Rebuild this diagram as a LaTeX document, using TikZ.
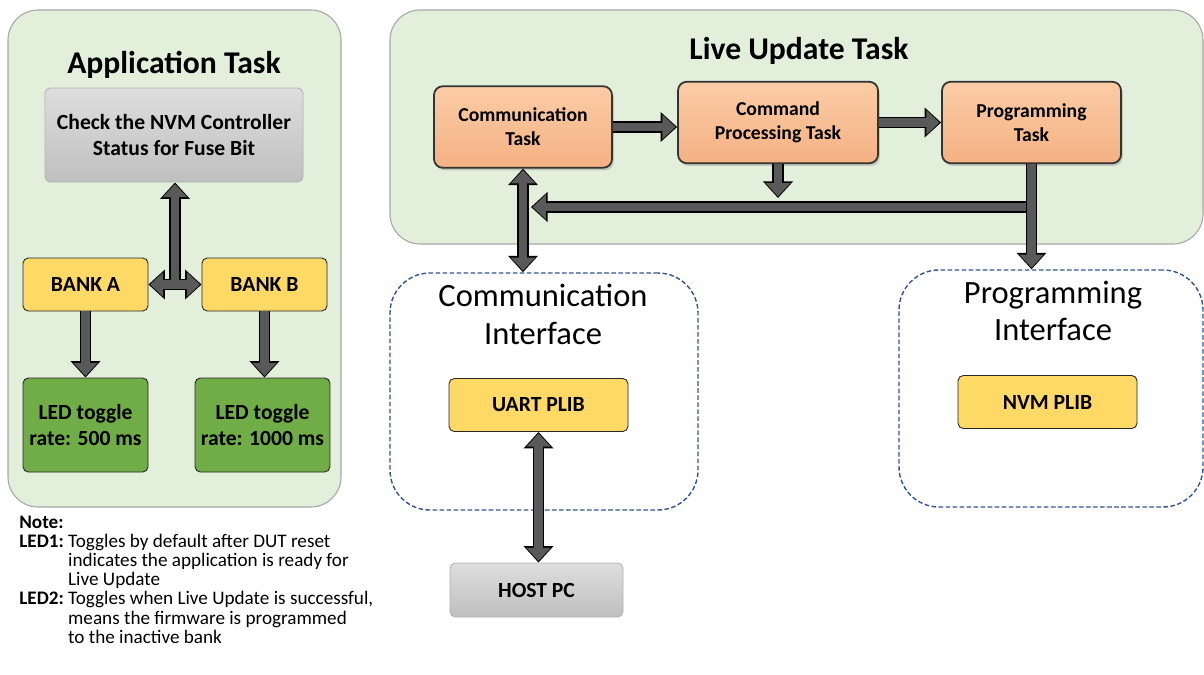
\documentclass[tikz,border=0pt]{standalone}
\usepackage{fontspec}
\setmainfont{Carlito}
\usetikzlibrary{arrows.meta, shadows}

\definecolor{panelgreen}{HTML}{E2EFDA}
\definecolor{panelline}{HTML}{A6A6A6}
\definecolor{bankyellow}{HTML}{FFD966}
\definecolor{ledgreen}{HTML}{70AD47}
\definecolor{tasktop}{HTML}{FBCCA6}
\definecolor{taskbot}{HTML}{F4B183}
\definecolor{arrowgray}{HTML}{595959}
\definecolor{ifblue}{HTML}{2F5597}

\begin{document}
\begin{tikzpicture}[
        panel/.style={draw=panelline, fill=panelgreen, rounded corners=0.6cm, line width=0.6pt},
        ifbox/.style={draw=ifblue, dash pattern=on 2.6pt off 1.4pt, rounded corners=0.8cm, line width=0.8pt},
        title/.style={font=\bfseries\fontsize{18}{21}\selectfont},
        iflabel/.style={align=center, font=\fontsize{18.5}{21.5}\selectfont},
        block/.style={draw=black!85, rounded corners=3pt, align=center, line width=0.5pt,
            font=\bfseries\fontsize{12.3}{15}\selectfont},
        grayblock/.style={block, draw=black!30, top color=black!13, bottom color=black!25},
        yellowblock/.style={block, fill=bankyellow, minimum width=2.5cm, minimum height=1.06cm},
        ledblock/.style={block, fill=ledgreen, minimum width=2.5cm, minimum height=1.88cm},
        taskblock/.style={block, draw=black!80, line width=1pt, rounded corners=5pt,
            top color=tasktop, bottom color=taskbot, minimum height=1.63cm,
            font=\bfseries\fontsize{11.2}{13.6}\selectfont,
            drop shadow={shadow xshift=1pt, shadow yshift=-1.5pt, opacity=0.35}},
        blockarrow/.style={draw=arrowgray, line width=4.8pt, shorten >=0.9pt,
            -{Triangle[length=7.5pt, width=13.5pt]},
            preaction={draw=black, line width=6.4pt, shorten >=0pt, -{Triangle[length=9.4pt, width=16.5pt]}}},
        dblockarrow/.style={draw=arrowgray, line width=4.8pt, shorten >=0.9pt, shorten <=0.9pt,
            {Triangle[length=7.5pt, width=13.5pt]}-{Triangle[length=7.5pt, width=13.5pt]},
            preaction={draw=black, line width=6.4pt, shorten >=0pt, shorten <=0pt,
            {Triangle[length=9.4pt, width=16.5pt]}-{Triangle[length=9.4pt, width=16.5pt]}}}
    ]
        \useasboundingbox (0,0) rectangle (24.08,-13.48);

        % application side
        \node (app) at (3.49,-5.17) [panel, minimum width=6.66cm, minimum height=9.94cm] {};
        \node (apptitle) at (3.48,-1.3) [title] {Application Task};
        \node (check) at (3.48,-2.7) [grayblock, minimum width=5.16cm, minimum height=1.88cm]
            {Check the NVM Controller\\Status for Fuse Bit};
        \node (bankA) at (1.71,-5.69) [yellowblock] {BANK A};
        \node (bankB) at (5.29,-5.69) [yellowblock] {BANK B};
        \node (ledA) at (1.71,-8.5) [ledblock] {LED toggle\\rate: 500 ms};
        \node (ledB) at (5.25,-8.5) [ledblock] {LED toggle\\rate: 1000 ms};

        % live update side
        \node (live) at (15.93,-2.54) [panel, minimum width=16.26cm, minimum height=4.68cm] {};
        \node (livetitle) at (15.98,-1.02) [title] {Live Update Task};
        \node (comm) at (10.46,-2.54) [taskblock, minimum width=3.56cm] {Communication\\Task};
        \node (cmd) at (15.56,-2.45) [taskblock, minimum width=4cm] {Command\\Processing Task};
        \node (prog) at (20.63,-2.45) [taskblock, minimum width=3.58cm] {Programming\\Task};

        \node (commif) at (10.88,-7.83) [ifbox, minimum width=6.16cm, minimum height=4.74cm] {};
        \node (commiflabel) at (10.86,-6.28) [iflabel] {Communication\\Interface};
        \node (progif) at (21.02,-7.77) [ifbox, minimum width=6.08cm, minimum height=4.74cm] {};
        \node (progiflabel) at (21.06,-6.22) [iflabel] {Programming\\Interface};
        \node (uart) at (10.77,-8.1) [yellowblock, minimum width=3.58cm] {UART PLIB};
        \node (nvm) at (20.95,-8.04) [yellowblock, minimum width=3.58cm] {NVM PLIB};
        \node (host) at (10.73,-11.8) [grayblock, minimum width=3.46cm, minimum height=1.08cm] {HOST PC};

        \coordinate (busR) at (20.63,-4.14);
        \coordinate (busL) at (10.62,-4.14);
        \coordinate (busM) at (15.56,-3.96);
        \coordinate (tj) at (3.5,-5.605);

        % connectors
        \draw[dblockarrow] (bankA) -- (bankB);
        \draw[blockarrow] (tj) -- (tj |- check.south);
        \draw[blockarrow] (bankA) -- (ledA);
        \draw[blockarrow] (bankB.south) -- (bankB.south |- ledB.north);

        \draw[blockarrow] (comm.east) -- (comm.east -| cmd.west);
        \draw[blockarrow] (cmd.east) -- (prog.west);
        \draw[blockarrow] (cmd.south) -- (cmd.south |- busM);
        \draw[blockarrow] (busR) -- (busL);
        \draw[blockarrow] (prog.south) -- (prog.south |- progif.north);
        \draw[dblockarrow] (comm.south) -- (comm.south |- commif.north);
        \draw[dblockarrow] (uart.south) -- (uart.south |- host.north);

        \node (note) at (0.38,-10.29) [anchor=north west, inner sep=0pt, font=\fontsize{10.9}{10.9}\selectfont] {%
            \begin{tabular}{@{}l@{\ }l@{}}
            \multicolumn{2}{@{}l}{\textbf{Note:}}\\
            \textbf{LED1:} & Toggles by default after DUT reset\\
             & indicates the application is ready for\\
             & Live Update\\
            \textbf{LED2:} & Toggles when Live Update is successful,\\
             & means the firmware is programmed\\
             & to the inactive bank
            \end{tabular}};

    \end{tikzpicture}
\end{document}
